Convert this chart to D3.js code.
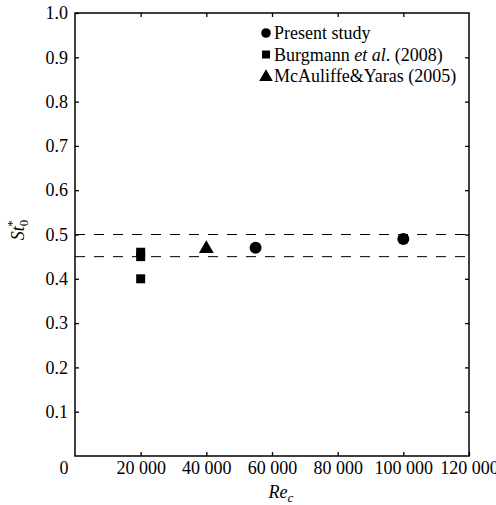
<!DOCTYPE html>
<html><head><meta charset="utf-8">
<script src="https://cdn.jsdelivr.net/npm/d3@7"></script>
<style>body{margin:0;background:#fff}svg{display:block}text{font-family:"Liberation Serif","Times New Roman",serif;fill:#000}</style>
</head><body><div id="c"></div>
<script>
const xTicks=[20000,40000,60000,80000,100000,120000];
const xTickLabels=["20 000","40 000","60 000","80 000","100 000","120 000"];
const yTicks=[0.1,0.2,0.3,0.4,0.5,0.6,0.7,0.8,0.9,1.0];
const presentRe=[55000,100000];
const presentSt=[0.47,0.49];
const burgmannRe=[20000,20000,20000];
const burgmannSt=[0.46,0.45,0.40];
const mcauliffeRe=[40000];
const mcauliffeSt=[0.47];
const refLines=[0.5,0.45];
const legendLabels=["Present study","Burgmann et al. (2008)","McAuliffe&Yaras (2005)"];

const W=496,H=505,L=75,T=13,R=469,B=456;
const svg=d3.select("#c").append("svg").attr("width",W).attr("height",H);
const x=d3.scaleLinear().domain([0,120000]).range([L,R]);
const y=d3.scaleLinear().domain([0,1]).range([B,T]);
const fs=18;

// ref dashed lines
svg.selectAll("line.ref").data(refLines).enter().append("line")
 .attr("x1",L).attr("x2",R).attr("y1",d=>y(d)).attr("y2",d=>y(d))
 .attr("stroke","#000").attr("stroke-width",1).attr("stroke-dasharray","10,9");

// axes
const ax=svg.append("g").attr("transform",`translate(0,${B})`).call(d3.axisBottom(x).tickValues(xTicks).tickSize(-4).tickPadding(5).tickFormat((d,i)=>xTickLabels[i]));
const axT=svg.append("g").attr("transform",`translate(0,${T})`).call(d3.axisTop(x).tickValues(xTicks.slice(0,5)).tickSize(-4).tickFormat(""));
const ay=svg.append("g").attr("transform",`translate(${L},0)`).call(d3.axisLeft(y).tickValues(yTicks).tickSize(-4).tickPadding(7).tickFormat(d3.format(".1f")));
const ayR=svg.append("g").attr("transform",`translate(${R},0)`).call(d3.axisRight(y).tickValues(yTicks.slice(0,9)).tickSize(-4).tickFormat(""));
[ax,axT,ay,ayR].forEach(g=>{g.select(".domain").remove();g.selectAll("line").attr("stroke","#000").attr("stroke-width",1.3);g.selectAll("text").attr("font-size",fs).attr("font-family","Liberation Serif");});
ax.selectAll("text").attr("dy","0.71em");
// zero label
svg.append("text").attr("x",x(0)-11).attr("y",B+5).attr("dy","0.71em").attr("text-anchor","middle").attr("font-size",fs).text("0");
// box
svg.append("rect").attr("x",L).attr("y",T).attr("width",R-L).attr("height",B-T).attr("fill","none").attr("stroke","#000").attr("stroke-width",1.5);

// markers
const sq=d3.symbol().type(d3.symbolSquare).size(81);
const tri=d3.symbol().type(d3.symbolTriangle).size(95);
svg.selectAll("circle.p").data(presentRe).enter().append("circle")
 .attr("cx",d=>x(d)).attr("cy",(d,i)=>y(presentSt[i])).attr("r",6).attr("fill","#000");
svg.selectAll("path.b").data(burgmannRe).enter().append("path").attr("d",sq)
 .attr("transform",(d,i)=>`translate(${x(d)},${y(burgmannSt[i])})`).attr("fill","#000");
svg.selectAll("path.m").data(mcauliffeRe).enter().append("path").attr("d",tri)
 .attr("transform",(d,i)=>`translate(${x(d)},${y(mcauliffeSt[i])+1})`).attr("fill","#000");

// legend
const lx=266,ly0=33,ldy=21.5;
const lg=svg.append("g");
lg.append("circle").attr("cx",lx).attr("cy",ly0).attr("r",4.8).attr("fill","#000");
lg.append("path").attr("d",d3.symbol().type(d3.symbolSquare).size(64)).attr("transform",`translate(${lx},${ly0+ldy})`);
lg.append("path").attr("d",d3.symbol().type(d3.symbolTriangle).size(80)).attr("transform",`translate(${lx},${ly0+2*ldy+1})`);
lg.append("text").attr("x",lx+8).attr("y",ly0).attr("dy","0.35em").attr("font-size",fs).text(legendLabels[0]);
const t2=lg.append("text").attr("x",lx+8).attr("y",ly0+ldy).attr("dy","0.35em").attr("font-size",fs);
t2.append("tspan").text("Burgmann ");
t2.append("tspan").attr("font-style","italic").text("et al");
t2.append("tspan").text(". (2008)");
lg.append("text").attr("x",lx+8).attr("y",ly0+2*ldy).attr("dy","0.35em").attr("font-size",fs).text(legendLabels[2]);

// axis titles
const xl=svg.append("text").attr("x",281).attr("y",498).attr("text-anchor","middle").attr("font-size",fs).attr("font-style","italic");
xl.append("tspan").text("Re");
xl.append("tspan").attr("font-size",13).attr("dy",4).text("c");
const yl=svg.append("text").attr("transform",`translate(24,${y(0.51)}) rotate(-90)`).attr("text-anchor","middle").attr("font-size",fs).attr("font-style","italic");
yl.append("tspan").text("St");
yl.append("tspan").attr("font-size",13).attr("font-style","normal").attr("dy",4).text("0");
yl.append("tspan").attr("font-size",13).attr("font-style","normal").attr("dx",-7).attr("dy",-12).text("*");
</script></body></html>
